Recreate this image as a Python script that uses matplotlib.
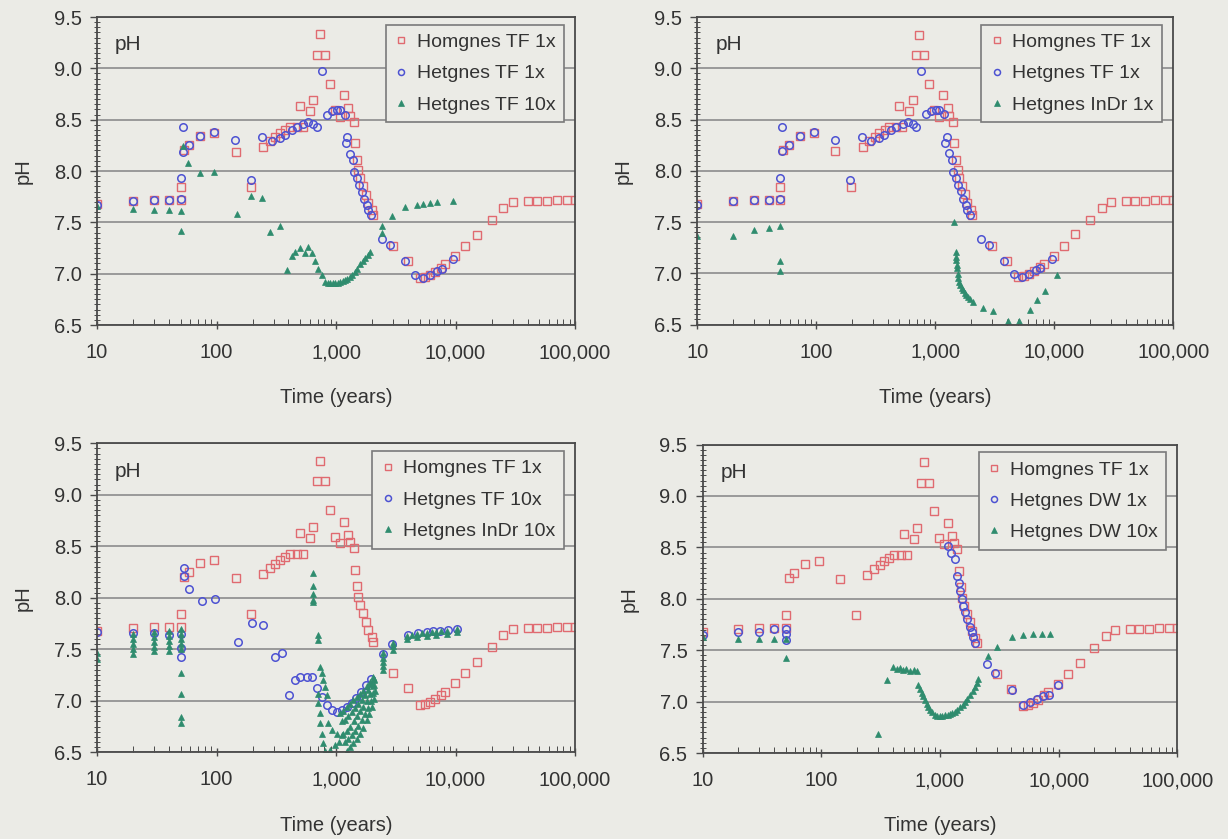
import matplotlib.pyplot as plt
from matplotlib.ticker import FuncFormatter, LogLocator, MultipleLocator, NullFormatter

plt.rcParams['font.family'] = ['Liberation Sans', 'DejaVu Sans']

BG = '#ebebe6'
TXT = '#333333'
RED = '#e06a70'
BLUE = '#4d52d2'
GREEN = '#2f8c6e'

# Homgnes TF 1x (shown in every panel)
hom_t = [10, 20, 30, 40, 50, 50, 53, 59, 73, 95, 145, 195, 245, 280, 310, 340, 375, 410,
         470, 530, 500, 600, 645, 690, 735, 810, 890, 980, 1080, 1160, 1270, 1310, 1400, 1440,
         1490, 1540, 1590, 1690, 1780, 1860, 1990, 2050, 3000, 4000, 5000, 5550, 6100, 6700,
         7600, 8200, 9900, 12000, 15000, 20000, 25000, 30000, 40000, 48000, 58000, 70000,
         85000, 100000]
hom_ph = [7.68, 7.71, 7.72, 7.72, 7.72, 7.84, 8.20, 8.25, 8.34, 8.37, 8.19, 7.84, 8.23, 8.29,
          8.33, 8.37, 8.40, 8.43, 8.43, 8.43, 8.63, 8.58, 8.69, 9.13, 9.33, 9.13, 8.85, 8.59,
          8.53, 8.74, 8.61, 8.54, 8.48, 8.27, 8.11, 8.01, 7.93, 7.85, 7.77, 7.69, 7.62, 7.57,
          7.27, 7.12, 6.96, 6.97, 6.99, 7.02, 7.06, 7.09, 7.17, 7.27, 7.38, 7.52, 7.64, 7.70,
          7.71, 7.71, 7.71, 7.72, 7.72, 7.72]

# Hetgnes TF 1x (top panels)
tf1_t = [10, 20, 30, 40, 50, 50, 52, 52, 59, 73, 95, 143, 194, 242, 290, 340, 374, 425, 469,
         533, 586, 646, 689, 759, 836, 920, 1014, 1080, 1190, 1213, 1244, 1309, 1396, 1422,
         1489, 1567, 1640, 1714, 1806, 1862, 1950, 2410, 2830, 3780, 4580, 5380, 6120, 6960,
         7660, 9590]
tf1_ph = [7.67, 7.71, 7.72, 7.72, 7.73, 7.93, 8.43, 8.19, 8.25, 8.34, 8.38, 8.30, 7.91, 8.33,
          8.29, 8.32, 8.35, 8.40, 8.43, 8.46, 8.48, 8.46, 8.43, 8.97, 8.55, 8.58, 8.59, 8.59,
          8.55, 8.27, 8.33, 8.17, 8.11, 7.99, 7.93, 7.86, 7.80, 7.73, 7.67, 7.62, 7.57, 7.34,
          7.28, 7.12, 6.99, 6.96, 6.99, 7.03, 7.05, 7.14]

# Hetgnes TF 10x (top left)
tf10_t = [10, 20, 30, 40, 50, 50, 52, 58, 73, 95, 147, 194, 242, 281, 340, 386, 425, 454, 500,
          551, 586, 626, 667, 711, 759, 809, 850, 891, 935, 981, 1030, 1080, 1135, 1189, 1245,
          1309, 1370, 1442, 1510, 1588, 1665, 1750, 1835, 1928, 2410, 2410, 2920, 3780, 4730,
          5380, 6120, 6960, 9590]
tf10_ph = [7.66, 7.63, 7.62, 7.62, 7.61, 7.42, 8.24, 8.08, 7.98, 7.99, 7.58, 7.76, 7.74, 7.41,
           7.46, 7.04, 7.17, 7.21, 7.25, 7.20, 7.26, 7.20, 7.12, 7.05, 6.99, 6.92, 6.91, 6.91,
           6.91, 6.91, 6.91, 6.92, 6.93, 6.94, 6.95, 6.97, 6.99, 7.02, 7.05, 7.09, 7.12, 7.15,
           7.18, 7.21, 7.46, 7.40, 7.56, 7.65, 7.67, 7.68, 7.69, 7.70, 7.71]

# Hetgnes InDr 1x (top right)
indr1_t = [10, 20, 30, 40, 50, 50, 50, 1436, 1480, 1492, 1500, 1510, 1520, 1542, 1560, 1592,
           1620, 1667, 1700, 1778, 1820, 1893, 1950, 2088, 2530, 3070, 4100, 5080, 6250, 7110,
           8360, 10470]
indr1_ph = [7.36, 7.36, 7.42, 7.44, 7.46, 7.12, 7.02, 7.50, 7.21, 7.16, 7.13, 7.08, 7.05, 6.99,
            6.95, 6.92, 6.89, 6.86, 6.84, 6.81, 6.79, 6.77, 6.75, 6.72, 6.66, 6.63, 6.54, 6.54,
            6.64, 6.74, 6.83, 6.98]

# Hetgnes TF 10x (bottom left)
tf10b_t = [10, 20, 30, 40, 50, 50, 50, 53, 53, 59, 75, 97, 152, 197, 247, 309, 351, 406, 454,
           500, 569, 626, 689, 759, 836, 920, 1014, 1115, 1230, 1350, 1480, 1620, 1780, 1950,
           2450, 2950, 4030, 4890, 5740, 6530, 7420, 8710, 10230]
tf10b_ph = [7.67, 7.66, 7.66, 7.64, 7.65, 7.51, 7.43, 8.29, 8.21, 8.09, 7.97, 7.99, 7.57, 7.76,
            7.74, 7.43, 7.46, 7.06, 7.20, 7.23, 7.23, 7.23, 7.12, 7.04, 6.96, 6.91, 6.89, 6.91,
            6.94, 6.98, 7.03, 7.09, 7.15, 7.21, 7.45, 7.55, 7.64, 7.66, 7.67, 7.68, 7.68, 7.69,
            7.70]

# Hetgnes InDr 10x (bottom left)
indr10_t = [10, 10, 20, 20, 20, 20, 20, 30, 30, 30, 30, 30, 40, 40, 40, 40, 40,
            50, 50, 50, 50, 50, 50, 50, 50, 50,
            646, 646, 646, 646, 646, 711, 711,
            735, 760, 784, 810, 836, 711, 711, 735, 735, 759, 784, 809,
            864, 920, 1014, 1115, 891, 981, 1050,
            1080, 1150, 1227, 1310, 1396, 1490, 1588, 1690, 1806, 1930, 2053,
            1115, 1190, 1270, 1350, 1440, 1540, 1640, 1750, 1860, 1960, 2060,
            1150, 1230, 1309, 1400, 1489, 1590, 1694, 1810, 1928, 2030, 2080,
            1190, 1270, 1350, 1440, 1540, 1640, 1750, 1850, 1960, 2050, 2095,
            1227, 1310, 1396, 1490, 1588, 1690, 1806, 1900, 1990, 2060, 2110,
            2490, 2490, 2490, 2490, 2490, 3015, 3015, 3015,
            3890, 4300, 4750, 5200, 5740, 6300, 6900, 7600, 8430, 10200,
            3890, 4750, 5740, 6900, 8430, 10200]
indr10_ph = [7.41, 7.46, 7.65, 7.60, 7.55, 7.50, 7.45, 7.67, 7.62, 7.57, 7.52, 7.48,
             7.68, 7.63, 7.58, 7.53, 7.48,
             7.70, 7.65, 7.60, 7.55, 7.50, 7.27, 7.07, 6.84, 6.78,
             8.24, 8.11, 8.04, 7.98, 7.96, 7.64, 7.59,
             7.33, 7.27, 7.20, 7.13, 7.06, 7.07, 6.98, 6.88, 6.78, 6.68, 6.59, 6.51,
             6.78, 6.72, 6.68, 6.67, 6.52, 6.57, 6.60,
             6.88, 6.90, 6.94, 6.97, 7.01, 7.04, 7.07, 7.10, 7.14, 7.18, 7.23,
             6.80, 6.81, 6.85, 6.89, 6.93, 6.97, 7.01, 7.06, 7.11, 7.16, 7.21,
             6.68, 6.71, 6.75, 6.80, 6.85, 6.90, 6.94, 7.00, 7.07, 7.14, 7.20,
             6.60, 6.63, 6.67, 6.71, 6.76, 6.81, 6.87, 6.93, 7.00, 7.08, 7.15,
             6.51, 6.55, 6.59, 6.63, 6.68, 6.74, 6.81, 6.87, 6.94, 7.02, 7.10,
             7.30, 7.34, 7.38, 7.42, 7.46, 7.49, 7.53, 7.56,
             7.63, 7.64, 7.65, 7.66, 7.66, 7.67, 7.67, 7.68, 7.68, 7.70,
             7.60, 7.62, 7.63, 7.64, 7.65, 7.67]

# Hetgnes DW 1x (bottom right)
dw1_t = [10, 20, 30, 40, 50, 50, 50, 1175, 1250, 1337, 1381, 1455, 1480, 1524, 1574, 1620,
         1680, 1794, 1850, 1910, 1972, 2476, 2904, 4020, 5040, 5730, 6530, 7430, 8320, 9930]
dw1_ph = [7.65, 7.68, 7.68, 7.71, 7.71, 7.66, 7.60, 8.51, 8.45, 8.39, 8.22, 8.15, 8.08, 8.00,
          7.93, 7.87, 7.80, 7.73, 7.68, 7.63, 7.57, 7.37, 7.28, 7.11, 6.97, 7.00, 7.03, 7.05,
          7.06, 7.16]

# Hetgnes DW 10x (bottom right)
dw10_t = [10, 20, 30, 40, 50, 50, 302, 355, 404, 431, 460, 491, 520, 559, 600, 635, 656, 680,
          701, 725, 748, 775, 797, 825, 851, 908, 950, 1000, 1050, 1102, 1160, 1214, 1270,
          1337, 1400, 1474, 1550, 1624, 1700, 1790, 1880, 1972, 2040, 2103, 2553, 3006, 4020,
          5040, 6120, 7190, 8450]
dw10_ph = [7.63, 7.61, 7.61, 7.61, 7.61, 7.42, 6.68, 7.21, 7.34, 7.32, 7.33, 7.31, 7.32, 7.30,
           7.31, 7.30, 7.16, 7.12, 7.08, 7.05, 7.02, 6.98, 6.95, 6.92, 6.90, 6.87, 6.86, 6.86,
           6.86, 6.87, 6.87, 6.88, 6.89, 6.90, 6.92, 6.95, 6.97, 7.00, 7.03, 7.06, 7.10, 7.14,
           7.18, 7.22, 7.44, 7.53, 7.63, 7.65, 7.66, 7.66, 7.66]

panels = [
    ([0.0790, 0.6126, 0.3893, 0.3671],
     (tf1_t, tf1_ph, 'Hetgnes TF 1x'), (tf10_t, tf10_ph, 'Hetgnes TF 10x')),
    ([0.5678, 0.6131, 0.3876, 0.3665],
     (tf1_t, tf1_ph, 'Hetgnes TF 1x'), (indr1_t, indr1_ph, 'Hetgnes InDr 1x')),
    ([0.0790, 0.1033, 0.3893, 0.3683],
     (tf10b_t, tf10b_ph, 'Hetgnes TF 10x'), (indr10_t, indr10_ph, 'Hetgnes InDr 10x')),
    ([0.5722, 0.1025, 0.3865, 0.3676],
     (dw1_t, dw1_ph, 'Hetgnes DW 1x'), (dw10_t, dw10_ph, 'Hetgnes DW 10x')),
]

fig = plt.figure(figsize=(12.28, 8.39), dpi=100, facecolor=BG)

for rect, blue, green in panels:
    ax = fig.add_axes(rect, facecolor=BG)
    ax.plot(hom_t, hom_ph, ls='none', marker='s', ms=5.2, mfc='none', mec=RED, mew=1.0,
            label='Homgnes TF 1x')
    ax.plot(blue[0], blue[1], ls='none', marker='o', ms=5.4, mfc='none', mec=BLUE, mew=1.1,
            label=blue[2])
    ax.plot(green[0], green[1], ls='none', marker='^', ms=4.6, mfc=GREEN, mec=GREEN, mew=0.5,
            label=green[2])

    ax.set_xscale('log')
    ax.set_xlim(10, 1e5)
    ax.set_ylim(6.5, 9.5)
    ax.yaxis.set_major_locator(MultipleLocator(0.5))
    ax.yaxis.set_minor_locator(MultipleLocator(0.05))
    ax.yaxis.set_major_formatter(FuncFormatter(lambda v, _: f'{v:.1f}'))
    ax.xaxis.set_major_locator(LogLocator(10))
    ax.xaxis.set_minor_locator(LogLocator(10, subs=range(2, 10)))
    ax.xaxis.set_major_formatter(FuncFormatter(lambda v, _: f'{v:,.0f}'))
    ax.xaxis.set_minor_formatter(NullFormatter())

    ax.grid(axis='y', which='major', color='#8c8c8c', lw=1.2)
    ax.set_axisbelow(True)
    for s in ax.spines.values():
        s.set_color('#4a4a4a')
        s.set_linewidth(1.3)

    ax.tick_params(axis='both', which='major', labelsize=14.5, labelcolor=TXT, color='#4a4a4a')
    ax.tick_params(axis='y', which='major', direction='out', length=5, width=1.0, pad=6)
    ax.tick_params(axis='y', which='minor', direction='inout', length=4, width=0.7,
                   color='#4a4a4a')
    ax.tick_params(axis='x', which='major', direction='inout', length=6, width=1.0, pad=10)
    ax.tick_params(axis='x', which='minor', direction='in', length=4, width=0.7,
                   color='#4a4a4a')

    ax.set_xlabel('Time (years)', fontsize=14.5, color=TXT, labelpad=19)
    ax.set_ylabel('pH', fontsize=14.5, color=TXT, labelpad=15)
    ax.text(0.038, 0.91, 'pH', transform=ax.transAxes, fontsize=15, color=TXT, va='center')

    leg = ax.legend(loc='upper right', bbox_to_anchor=(0.977, 0.975), fontsize=14,
                    frameon=True, fancybox=False, edgecolor='#7a7a7a', facecolor=BG,
                    framealpha=1, borderpad=0.45, handlelength=0.7, handletextpad=0.45,
                    labelspacing=0.7, markerscale=0.8, borderaxespad=0)
    leg.get_frame().set_linewidth(1.2)
    for t in leg.get_texts():
        t.set_color(TXT)

fig.savefig('out.png', dpi=100, facecolor=BG)
